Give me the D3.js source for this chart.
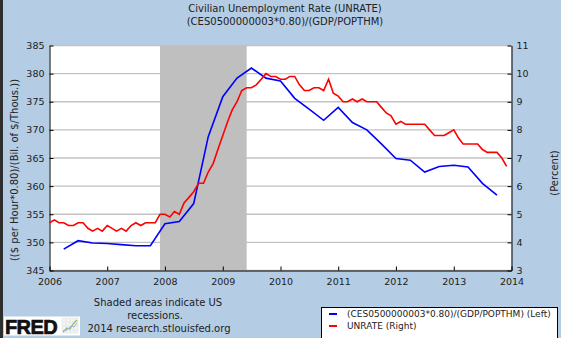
<!DOCTYPE html>
<html>
<head>
<meta charset="utf-8">
<script src="https://cdn.jsdelivr.net/npm/d3@7"></script>
<style>
  body { margin: 0; background: #b4cce4; }
  svg { display: block; font-family: "DejaVu Sans", Verdana, sans-serif; }
</style>
</head>
<body>
<svg id="chart"></svg>
<script>
// Civilian unemployment rate, monthly, percent (right axis)
var unrateStart = "2006-01";
var unrate = [
  4.7, 4.8, 4.7, 4.7, 4.6, 4.6, 4.7, 4.7, 4.5, 4.4, 4.5, 4.4,   // 2006
  4.6, 4.5, 4.4, 4.5, 4.4, 4.6, 4.7, 4.6, 4.7, 4.7, 4.7, 5.0,   // 2007
  5.0, 4.9, 5.1, 5.0, 5.4, 5.6, 5.8, 6.1, 6.1, 6.5, 6.8, 7.3,   // 2008
  7.8, 8.3, 8.7, 9.0, 9.4, 9.5, 9.5, 9.6, 9.8, 10.0, 9.9, 9.9,  // 2009
  9.8, 9.8, 9.9, 9.9, 9.6, 9.4, 9.4, 9.5, 9.5, 9.4, 9.8, 9.3,   // 2010
  9.2, 9.0, 9.0, 9.1, 9.0, 9.1, 9.0, 9.0, 9.0, 8.8, 8.6, 8.5,   // 2011
  8.2, 8.3, 8.2, 8.2, 8.2, 8.2, 8.2, 8.0, 7.8, 7.8, 7.8, 7.9,   // 2012
  8.0, 7.7, 7.5, 7.5, 7.5, 7.5, 7.3, 7.2, 7.2, 7.2, 7.0, 6.7    // 2013
];

// (CES0500000003*0.80)/(GDP/POPTHM), quarterly (left axis)
var ratioStart = "2006-04";
var ratio = [
  348.8, 350.3, 349.9,                  // 2006 Q2-Q4
  349.8, 349.6, 349.4, 349.4,           // 2007
  353.3, 353.7, 356.9, 368.8,           // 2008
  375.9, 379.2, 381.0, 379.2,           // 2009
  378.7, 375.6, 373.7, 371.7,           // 2010
  374.0, 371.3, 370.0, 367.5,           // 2011
  364.9, 364.6, 362.5, 363.5,           // 2012
  363.7, 363.4, 360.5, 358.4            // 2013
];

var recession = ["2007-12-01", "2009-06-01"];
var leftTicks = [345, 350, 355, 360, 365, 370, 375, 380, 385];
var rightTicks = [3, 4, 5, 6, 7, 8, 9, 10, 11];
var yearTicks = [2006, 2007, 2008, 2009, 2010, 2011, 2012, 2013, 2014];

var svgWidth = 561;
var svgHeight = 338;
var plot = { left: 49.5, right: 511.5, top: 45.5, bottom: 270.5 };

var svg = d3.select("#chart")
  .attr("width", svgWidth)
  .attr("height", svgHeight);

var parseMonth = d3.timeParse("%Y-%m");
var parseDay = d3.timeParse("%Y-%m-%d");

var redData = unrate.map((v, i) => ({ date: d3.timeMonth.offset(parseMonth(unrateStart), i), value: v }));
var blueData = ratio.map((v, i) => ({ date: d3.timeMonth.offset(parseMonth(ratioStart), i * 3), value: v }));

// Scales
var x = d3.scaleTime()
  .domain([new Date(2006, 0, 1), new Date(2014, 0, 1)])
  .range([plot.left, plot.right]);
var yLeft = d3.scaleLinear().domain([345, 385]).range([plot.bottom, plot.top]);
var yRight = d3.scaleLinear().domain([3, 11]).range([plot.bottom, plot.top]);

// Left frame edge
svg.append("rect").attr("x", 0).attr("y", 0).attr("width", 3).attr("height", svgHeight).attr("fill", "#2e2e2e");

// Titles
svg.append("text").attr("x", 285).attr("y", 11.5).attr("text-anchor", "middle")
  .attr("font-size", 10).attr("fill", "#222").text("Civilian Unemployment Rate (UNRATE)");
svg.append("text").attr("x", 285).attr("y", 25).attr("text-anchor", "middle")
  .attr("font-size", 10).attr("fill", "#222").text("(CES0500000003*0.80)/(GDP/POPTHM)");

// Plot background
svg.append("rect")
  .attr("x", plot.left).attr("y", plot.top)
  .attr("width", plot.right - plot.left).attr("height", plot.bottom - plot.top)
  .attr("fill", "#fff");

// Horizontal gridlines
svg.append("g").selectAll("line")
  .data(leftTicks)
  .enter()
  .append("line")
  .attr("x1", plot.left).attr("x2", plot.right)
  .attr("y1", d => yLeft(d)).attr("y2", d => yLeft(d))
  .attr("stroke", "#c2c2c2")
  .attr("stroke-width", 1.4);

// Recession shading
svg.append("rect")
  .attr("x", x(parseDay(recession[0])))
  .attr("y", plot.top)
  .attr("width", x(parseDay(recession[1])) - x(parseDay(recession[0])))
  .attr("height", plot.bottom - plot.top)
  .attr("fill", "#bfbfbf");

// Axes, ticks pointing into the plot
function styleAxis(g) {
  g.attr("font-family", null).attr("font-size", 9.5).attr("color", "#000");
  g.selectAll("text").attr("fill", "#222");
}

svg.append("g")
  .attr("transform", `translate(${plot.left},0)`)
  .call(d3.axisLeft(yLeft).tickValues(leftTicks).tickSizeInner(-4).tickSizeOuter(0).tickPadding(5))
  .call(styleAxis);

svg.append("g")
  .attr("transform", `translate(${plot.right},0)`)
  .call(d3.axisRight(yRight).tickValues(rightTicks).tickSizeInner(-4).tickSizeOuter(0).tickPadding(5))
  .call(styleAxis);

svg.append("g")
  .attr("transform", `translate(0,${plot.bottom})`)
  .call(d3.axisBottom(x).tickValues(yearTicks.map(y => new Date(y, 0, 1)))
    .tickFormat(d3.timeFormat("%Y")).tickSizeInner(-4).tickSizeOuter(0).tickPadding(8))
  .call(styleAxis);

// Axis titles
svg.append("text")
  .attr("transform", "translate(14.5,170) rotate(-90)")
  .attr("text-anchor", "middle").attr("dominant-baseline", "central")
  .attr("font-size", 10).attr("fill", "#222")
  .text("(($ per Hour*0.80)/(Bil. of $/Thous.))");

svg.append("text")
  .attr("transform", "translate(554,173) rotate(-90)")
  .attr("text-anchor", "middle").attr("dominant-baseline", "central")
  .attr("font-size", 10).attr("fill", "#222")
  .text("(Percent)");

// Series lines
var blueLine = d3.line().x(d => x(d.date)).y(d => yLeft(d.value));
var redLine = d3.line().x(d => x(d.date)).y(d => yRight(d.value));

svg.append("path")
  .datum(blueData)
  .attr("d", blueLine)
  .attr("fill", "none")
  .attr("stroke", "#0000ff")
  .attr("stroke-width", 1.6);

svg.append("path")
  .datum(redData)
  .attr("d", redLine)
  .attr("fill", "none")
  .attr("stroke", "#ff0000")
  .attr("stroke-width", 1.6);

// Recession note
var note = svg.append("g").attr("font-size", 10).attr("fill", "#222").attr("text-anchor", "middle");
note.append("text").attr("x", 158).attr("y", 306).text("Shaded areas indicate US");
note.append("text").attr("x", 155).attr("y", 318.6).text("recessions.");
note.append("text").attr("x", 159).attr("y", 332).text("2014 research.stlouisfed.org");

// FRED logo
var logo = svg.append("g");
logo.append("rect").attr("x", 4).attr("y", 316.5).attr("width", 76).attr("height", 19).attr("fill", "#fff");
logo.append("text")
  .attr("x", 5).attr("y", 333.5)
  .attr("font-family", "Liberation Sans, Arial, sans-serif")
  .attr("font-weight", "bold").attr("font-size", 20)
  .attr("fill", "#111").attr("stroke", "#111").attr("stroke-width", 0.7)
  .attr("letter-spacing", -0.6)
  .text("FRED");
var icon = logo.append("g").attr("transform", "translate(62,318)");
icon.append("rect").attr("width", 16).attr("height", 15).attr("fill", "#f4f4f4").attr("stroke", "#ddd").attr("stroke-width", 0.5);
[4, 8, 12].forEach(function (t) {
  icon.append("line").attr("x1", t).attr("x2", t).attr("y1", 0).attr("y2", 15).attr("stroke", "#ddd").attr("stroke-width", 0.5);
  icon.append("line").attr("x1", 0).attr("x2", 16).attr("y1", t).attr("y2", t).attr("stroke", "#ddd").attr("stroke-width", 0.5);
});
icon.append("path").attr("d", "M1,14L5,10L8,11L11,6L15,2").attr("fill", "none").attr("stroke", "#8dbb5a").attr("stroke-width", 1.2);
icon.append("path").attr("d", "M1,13L5,12L9,8L12,9L15,5").attr("fill", "none").attr("stroke", "#9ab8d8").attr("stroke-width", 1);

// Legend
var legend = svg.append("g");
legend.append("rect")
  .attr("x", 321.5).attr("y", 307.5)
  .attr("width", 236).attr("height", 40)
  .attr("fill", "#fff").attr("stroke", "#000");

var legendItems = [
  { label: "(CES0500000003*0.80)/(GDP/POPTHM) (Left)", color: "#0000ff" },
  { label: "UNRATE (Right)", color: "#ff0000" }
];
var rows = legend.selectAll("g.item")
  .data(legendItems)
  .enter()
  .append("g")
  .attr("transform", (d, i) => `translate(0,${314 + i * 12})`);
rows.append("line")
  .attr("x1", 329).attr("x2", 337)
  .attr("stroke", d => d.color).attr("stroke-width", 2);
rows.append("text")
  .attr("x", 347).attr("dy", "0.35em")
  .attr("font-size", 9).attr("fill", "#222")
  .text(d => d.label);
</script>
</body>
</html>
